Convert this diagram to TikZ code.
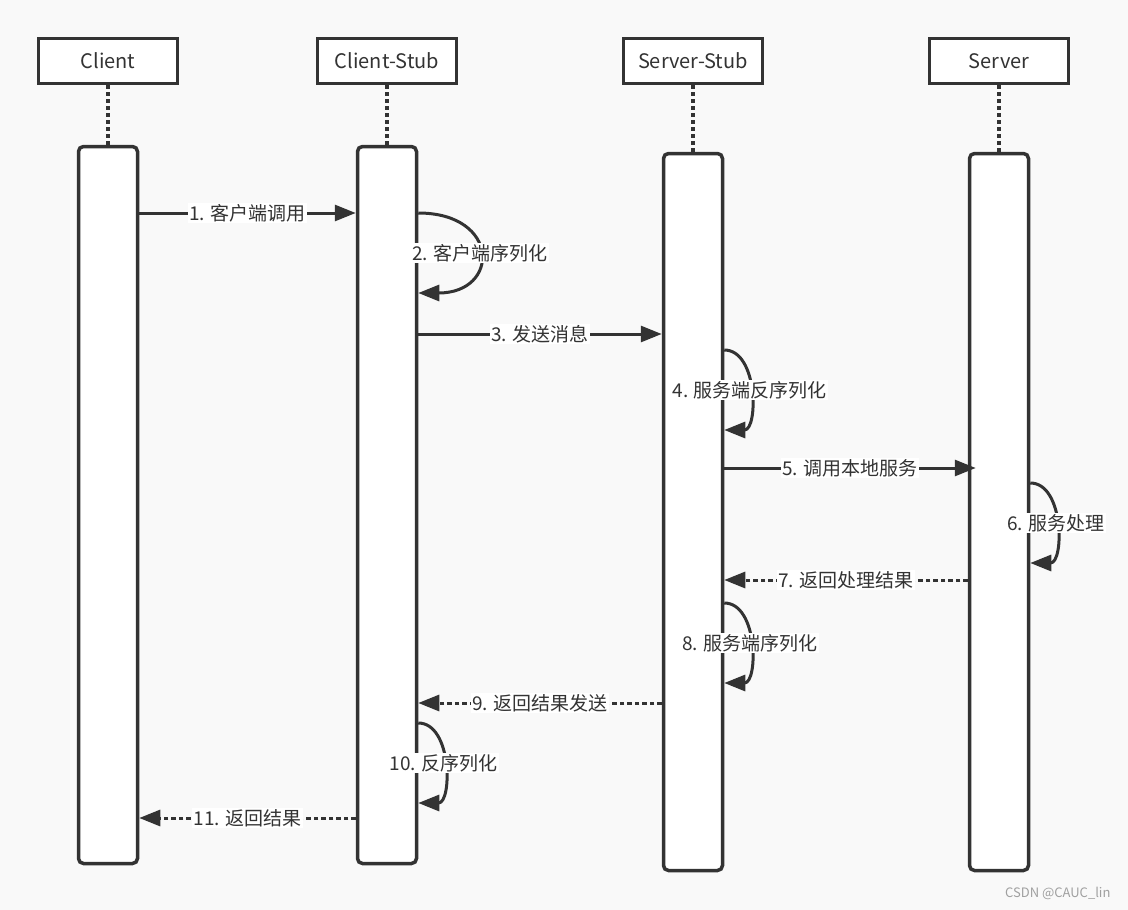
\documentclass[tikz,border=0pt]{standalone}
\usepackage{fontspec}
\setmainfont{Noto Sans CJK SC}
\usetikzlibrary{arrows.meta}
\definecolor{bgc}{RGB}{249,249,249}
\definecolor{ink}{RGB}{51,51,51}
\definecolor{wm}{RGB}{160,160,160}
\tikzset{
  head/.style={draw=ink, line width=3.5pt, fill=white, minimum width=139pt, minimum height=45pt, inner sep=0pt, text=ink, font=\fontsize{20}{23}\selectfont},
  bar/.style={draw=ink, line width=3.5pt, fill=white, rounded corners=5pt, minimum width=59pt, minimum height=717pt, inner sep=0pt},
  life/.style={draw=ink, line width=3.5pt, dash pattern=on 4pt off 3pt},
  msg/.style={draw=ink, line width=3pt, -{Triangle[length=21pt,width=16pt]}},
  ret/.style={msg, dash pattern=on 4.5pt off 3pt},
  lbl/.style={fill=white, inner sep=1pt, text=ink, font=\fontsize{19}{22}\selectfont}
}
\begin{document}
\begin{tikzpicture}[x=1pt,y=-1pt]
\fill[bgc] (0,0) rectangle (1128,910);
\useasboundingbox (0,0) rectangle (1128,910);
% headers
\node[head] (hc) at (108,61) {Client};
\node[head] (hcs) at (387,61) {Client-Stub};
\node[head] (hss) at (693,61) {Server-Stub};
\node[head] (hs) at (999,61) {Server};
% activation bars
\node[bar] (bc) at (108,505) {};
\node[bar] (bcs) at (387,505) {};
\node[bar] (bss) at (693,512) {};
\node[bar] (bs) at (999,512) {};
% lifelines
\draw[life] (hc.south) -- (bc.north);
\draw[life] (hcs.south) -- (bcs.north);
\draw[life] (hss.south) -- (bss.north);
\draw[life] (hs.south) -- (bs.north);
% y levels
\coordinate (y1) at (0,213);
\coordinate (y2a) at (0,213);
\coordinate (y2b) at (0,293);
\coordinate (y3) at (0,334);
\coordinate (y4a) at (0,350);
\coordinate (y4b) at (0,430);
\coordinate (y5) at (0,468);
\coordinate (y6a) at (0,483);
\coordinate (y6b) at (0,563);
\coordinate (y7) at (0,580);
\coordinate (y8a) at (0,603);
\coordinate (y8b) at (0,683);
\coordinate (y9) at (0,703);
\coordinate (y10a) at (0,723);
\coordinate (y10b) at (0,803);
\coordinate (y11) at (0,818);
% messages
\draw[msg] (bc.east |- y1) -- node[lbl]{1. 客户端调用} (bcs.west |- y1);
\draw[msg] (bcs.east |- y2a) .. controls +(82,0) and +(82,0) .. node[lbl]{2. 客户端序列化} (bcs.east |- y2b);
\draw[msg] (bcs.east |- y3) -- node[lbl]{3. 发送消息} (bss.west |- y3);
\draw[msg] (bss.east |- y4a) .. controls +(34,0) and +(34,0) .. node[lbl]{4. 服务端反序列化} (bss.east |- y4b);
\draw[msg] (bss.east |- y5) -- node[lbl]{5. 调用本地服务} ([xshift=8pt]bs.west |- y5);
\draw[msg] (bs.east |- y6a) .. controls +(34,0) and +(34,0) .. node[lbl]{6. 服务处理} (bs.east |- y6b);
\draw[ret] (bs.west |- y7) -- node[lbl]{7. 返回处理结果} (bss.east |- y7);
\draw[msg] (bss.east |- y8a) .. controls +(34,0) and +(34,0) .. node[lbl]{8. 服务端序列化} (bss.east |- y8b);
\draw[ret] (bss.west |- y9) -- node[lbl]{9. 返回结果发送} (bcs.east |- y9);
\draw[msg] (bcs.east |- y10a) .. controls +(34,0) and +(34,0) .. node[lbl]{10. 反序列化} (bcs.east |- y10b);
\draw[ret] (bcs.west |- y11) -- node[lbl]{11. 返回结果} (bc.east |- y11);
% watermark
\node[text=wm, font=\fontsize{13}{15}\selectfont, anchor=east] (wmark) at (1114,893) {CSDN @CAUC\_lin};
\end{tikzpicture}
\end{document}
